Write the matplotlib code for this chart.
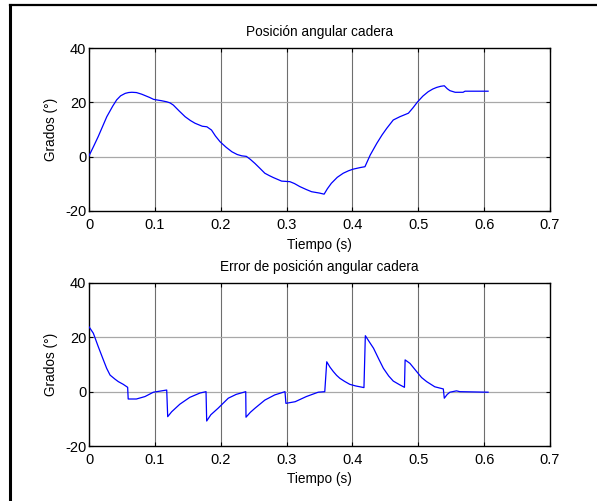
import numpy as np
import matplotlib
matplotlib.use("Agg")
import matplotlib.pyplot as plt
from matplotlib.lines import Line2D

plt.rcParams["font.family"] = ["Liberation Sans", "DejaVu Sans"]
plt.rcParams["font.size"] = 10
plt.rcParams["axes.unicode_minus"] = False

# Posicion angular cadera (grados)
t_pos = [0, 0.007, 0.014, 0.027, 0.036, 0.042, 0.048, 0.055, 0.060, 0.065, 0.072,
         0.080, 0.085, 0.092, 0.098, 0.105, 0.110, 0.118, 0.123, 0.128, 0.137,
         0.146, 0.154, 0.161, 0.172, 0.179, 0.186, 0.192, 0.199, 0.208, 0.217,
         0.225, 0.232, 0.239, 0.245, 0.252, 0.260, 0.267, 0.274, 0.280, 0.2925,
         0.305, 0.312, 0.320, 0.330, 0.338, 0.350, 0.357, 0.362, 0.368, 0.377,
         0.386, 0.394, 0.401, 0.412, 0.419, 0.427, 0.437, 0.445, 0.452, 0.462,
         0.472, 0.485, 0.492, 0.499, 0.507, 0.515, 0.522, 0.528, 0.534, 0.5395,
         0.544, 0.548, 0.556, 0.568, 0.571, 0.606]
pos = [0.3, 3.8, 7.4, 14.7, 18.6, 20.9, 22.4, 23.3, 23.6, 23.7, 23.6,
       23.0, 22.5, 21.8, 21.1, 20.8, 20.6, 20.2, 19.8, 19.0, 16.8,
       14.7, 13.3, 12.3, 11.2, 11.0, 9.8, 7.6, 5.5, 3.5, 1.8,
       0.8, 0.3, 0.1, -1.0, -2.5, -4.4, -6.1, -7.0, -7.7, -9.0,
       -9.2, -9.9, -11.0, -12.1, -12.9, -13.4, -13.8, -11.8, -9.8, -7.6,
       -6.1, -5.2, -4.6, -4.0, -3.7, 0.6, 4.9, 8.0, 10.4, 13.5,
       14.7, 16.0, 18.0, 20.2, 22.3, 23.9, 24.9, 25.5, 25.9, 26.1,
       25.0, 24.3, 23.7, 23.7, 24.1, 24.1]

# Error de posicion (grados)
t_err = [0, 0.0066, 0.014, 0.0218, 0.0268, 0.032, 0.0395, 0.0445, 0.052, 0.0587,
         0.0595, 0.072, 0.085, 0.0977, 0.118, 0.1195, 0.1255, 0.138, 0.153,
         0.1685, 0.1777, 0.1787, 0.185, 0.196, 0.2115, 0.2235, 0.238, 0.2384,
         0.245, 0.252, 0.267, 0.282, 0.2976, 0.299, 0.313, 0.330, 0.348, 0.358,
         0.361, 0.366, 0.371, 0.376, 0.381, 0.388, 0.396, 0.405, 0.4175, 0.4196,
         0.426, 0.432, 0.440, 0.447, 0.455, 0.462, 0.472, 0.479, 0.480, 0.4874,
         0.4975, 0.505, 0.5127, 0.525, 0.538, 0.5395, 0.544, 0.548, 0.558, 0.563,
         0.606]
err = [23.9, 21.5, 16.6, 11.7, 8.6, 6.1, 4.6, 3.7, 2.7, 1.6,
       -2.7, -2.7, -1.8, -0.2, 0.6, -9.2, -7.4, -4.6, -2.1,
       -0.5, 0.0, -10.8, -8.5, -6.1, -2.4, -1.0, 0.0, -9.4,
       -7.6, -6.1, -3.1, -1.2, 0.0, -4.3, -3.7, -1.8, -0.2, 0.0,
       11.0, 9.0, 7.4, 6.0, 4.9, 3.8, 2.7, 2.1, 1.5, 20.6,
       18.2, 16.0, 12.0, 8.6, 5.8, 3.9, 2.5, 1.6, 11.7, 10.4,
       7.4, 5.2, 3.7, 1.8, 1.0, -2.4, -1.0, -0.2, 0.3, 0.0,
       -0.2]

x_ticks = [0, 0.1, 0.2, 0.3, 0.4, 0.5, 0.6, 0.7]
x_labels = ["0", "0.1", "0.2", "0.3", "0.4", "0.5", "0.6", "0.7"]
y_ticks = [-20, 0, 20, 40]

W, H = 597, 501
fig = plt.figure(figsize=(W / 100, H / 100), dpi=100)

# marco (solo lados superior e izquierdo visibles)
fig.add_artist(Line2D([10 / W, 10 / W], [0, 1 - 5 / H], color="black", lw=2.2))
fig.add_artist(Line2D([10 / W, 1], [1 - 5 / H, 1 - 5 / H], color="black", lw=1.6))


def panel(rect, t, y, title):
    ax = fig.add_axes(rect)
    ax.plot(t, y, color="#0000ff", lw=0.9, zorder=3)
    ax.set_xlim(0, 0.7)
    ax.set_ylim(-20, 40)
    ax.set_xticks(x_ticks)
    ax.set_xticklabels(x_labels)
    ax.set_yticks(y_ticks)
    for xv in x_ticks[1:-1]:
        ax.axvline(xv, color="#6e6e6e", lw=0.8, zorder=1)
    for yv in y_ticks[1:-1]:
        ax.axhline(yv, color="#a8a8a8", lw=0.9, zorder=1)
    ax.tick_params(direction="in", top=True, right=True, length=3, width=0.8,
                   labelsize=10.5)
    ax.tick_params(axis="x", pad=5)
    ax.tick_params(axis="y", pad=2)
    for s in ax.spines.values():
        s.set_linewidth(1.0)
    ax.set_title(title, fontsize=9.8, pad=9)
    ax.set_xlabel("Tiempo (s)", fontsize=9.8, labelpad=4)
    ax.set_ylabel("Grados (°)", fontsize=9.8, labelpad=5)
    return ax


left = 89 / W
width = (550 - 89) / W
height = 163 / H
panel([left, 1 - 211 / H, width, height], t_pos, pos, "Posición angular cadera")
panel([left, 1 - 446 / H, width, height], t_err, err, "Error de posición angular cadera")

fig.savefig("out.png", dpi=100)
